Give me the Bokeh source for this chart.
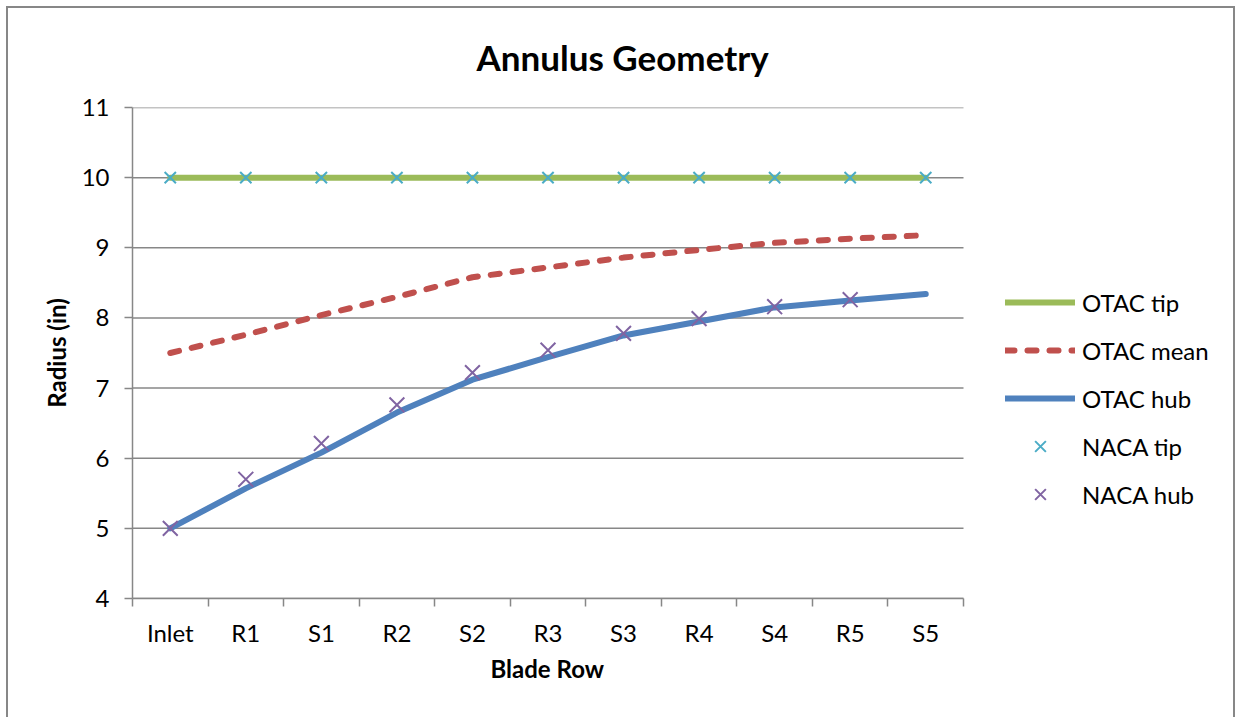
from bokeh.plotting import figure
from bokeh.models import FixedTicker, Legend, LegendItem, Title, Range1d
from bokeh.embed import file_html
from bokeh.resources import INLINE

# Blade rows along the annulus
categories = ["Inlet", "R1", "S1", "R2", "S2", "R3", "S3", "R4", "S4", "R5", "S5"]

# Radii (in)
otac_tip = [10.0, 10.0, 10.0, 10.0, 10.0, 10.0, 10.0, 10.0, 10.0, 10.0, 10.0]
otac_mean = [7.50, 7.76, 8.04, 8.30, 8.58, 8.72, 8.86, 8.97, 9.07, 9.13, 9.18]
otac_hub = [5.00, 5.57, 6.08, 6.65, 7.12, 7.44, 7.75, 7.95, 8.15, 8.25, 8.34]
naca_tip = [10.0, 10.0, 10.0, 10.0, 10.0, 10.0, 10.0, 10.0, 10.0, 10.0, 10.0]
naca_hub = [5.00, 5.70, 6.21, 6.76, 7.22, 7.54, 7.78, 7.99, 8.16, 8.26]

y_ticks = [4, 5, 6, 7, 8, 9, 10, 11]

FONT = "Lato"
GRID = "#878787"

n = len(categories)
xc = [i + 0.5 for i in range(n)]

# plot area is 831 px wide for the 11 rows; the frame runs on to the right
# edge of the canvas so the legend can sit beside the plot area
PLOT_W = 831
LEFT = 132
FRAME_W = 1236 - LEFT
x_end = n * FRAME_W / PLOT_W

# gray chart-area frame drawn behind a transparent canvas
_line = f"linear-gradient({GRID},{GRID})"
frame_css = ", ".join([
    f"{_line} 6px 6px / 1229px 2px no-repeat",
    f"{_line} 6px 6px / 2px 720px no-repeat",
    f"{_line} 1233px 6px / 2px 720px no-repeat",
    "white",
])

p = figure(width=1236, height=717, output_backend="svg", toolbar_location=None,
           x_range=Range1d(0, x_end), y_range=Range1d(4, 11),
           min_border_left=LEFT, min_border_right=0,
           min_border_top=107, min_border_bottom=119,
           styles={"background": frame_css})
p.outline_line_color = None
p.background_fill_alpha = 0
p.border_fill_alpha = 0

# category axis: labels centred, tick marks between rows
p.xaxis.bounds = (0, n)
p.xaxis.ticker = FixedTicker(ticks=xc, minor_ticks=list(range(n + 1)))
p.xaxis.major_label_overrides = {x: c for x, c in zip(xc, categories)}
p.xaxis.major_tick_out = 0
p.xaxis.major_tick_in = 0
p.xaxis.minor_tick_out = 8
p.xaxis.minor_tick_in = 0
p.xaxis.minor_tick_line_color = GRID
p.xaxis.minor_tick_line_width = 1.5
p.xaxis.axis_line_color = GRID
p.xaxis.axis_line_width = 1.5
p.xaxis.major_label_standoff = 11

p.yaxis.ticker = FixedTicker(ticks=y_ticks, minor_ticks=[])
p.yaxis.major_tick_out = 8
p.yaxis.major_tick_in = 0
p.yaxis.major_tick_line_color = GRID
p.yaxis.major_tick_line_width = 1.5
p.yaxis.axis_line_color = GRID
p.yaxis.axis_line_width = 1.5
p.yaxis.major_label_standoff = 15
p.yaxis.axis_label = "Radius (in)"
p.yaxis.axis_label_standoff = 8

for ax in (p.xaxis, p.yaxis):
    ax.major_label_text_font = FONT
    ax.major_label_text_font_size = "24px"
    ax.major_label_text_color = "black"
    ax.axis_label_text_font = FONT
    ax.axis_label_text_font_size = "24px"
    ax.axis_label_text_font_style = "bold"
    ax.axis_label_text_color = "black"

# horizontal gridlines only across the plot area
p.xgrid.grid_line_color = None
p.ygrid.grid_line_color = None
p.segment(x0=[0] * len(y_ticks), x1=[n] * len(y_ticks), y0=y_ticks, y1=y_ticks,
          line_color=GRID, line_width=1.5)

r_tip = p.line(xc, otac_tip, line_color="#9BBB59", line_width=6, line_cap="round")
r_mean = p.line(xc, otac_mean, line_color="#C0504D", line_width=6, line_cap="round",
                line_dash="9 13")
r_hub = p.line(xc, otac_hub, line_color="#4F81BD", line_width=6, line_cap="round")
r_ntip = p.scatter(xc, naca_tip, marker="x", size=16, line_color="#4BACC6", line_width=2)
r_nhub = p.scatter(xc[:len(naca_hub)], naca_hub, marker="x", size=21,
                   line_color="#8064A2", line_width=2)

legend = Legend(items=[
    LegendItem(label="OTAC tip", renderers=[r_tip]),
    LegendItem(label="OTAC mean", renderers=[r_mean]),
    LegendItem(label="OTAC hub", renderers=[r_hub]),
    LegendItem(label="NACA tip", renderers=[r_ntip]),
    LegendItem(label="NACA hub", renderers=[r_nhub]),
], location=(873, 85))
legend.border_line_color = None
legend.background_fill_alpha = 0
legend.padding = 0
legend.margin = 0
legend.glyph_width = 70
legend.glyph_height = 38
legend.label_height = 38
legend.spacing = 10
legend.label_standoff = 7
legend.label_text_font = FONT
legend.label_text_font_size = "24px"
legend.label_text_color = "black"
p.add_layout(legend, "center")

p.add_layout(Title(text="Annulus Geometry", align="left", offset=344, text_font=FONT,
                   text_font_size="35px", text_font_style="bold",
                   text_color="black", standoff=60), "above")

# x axis title, centred under the plot area rather than the whole frame
p.add_layout(Title(text="Blade Row", align="left", offset=490 - LEFT, text_font=FONT,
                   text_font_size="24px", text_font_style="bold",
                   text_color="black", standoff=5), "below")

open("out.html", "w").write(file_html(p, INLINE))
